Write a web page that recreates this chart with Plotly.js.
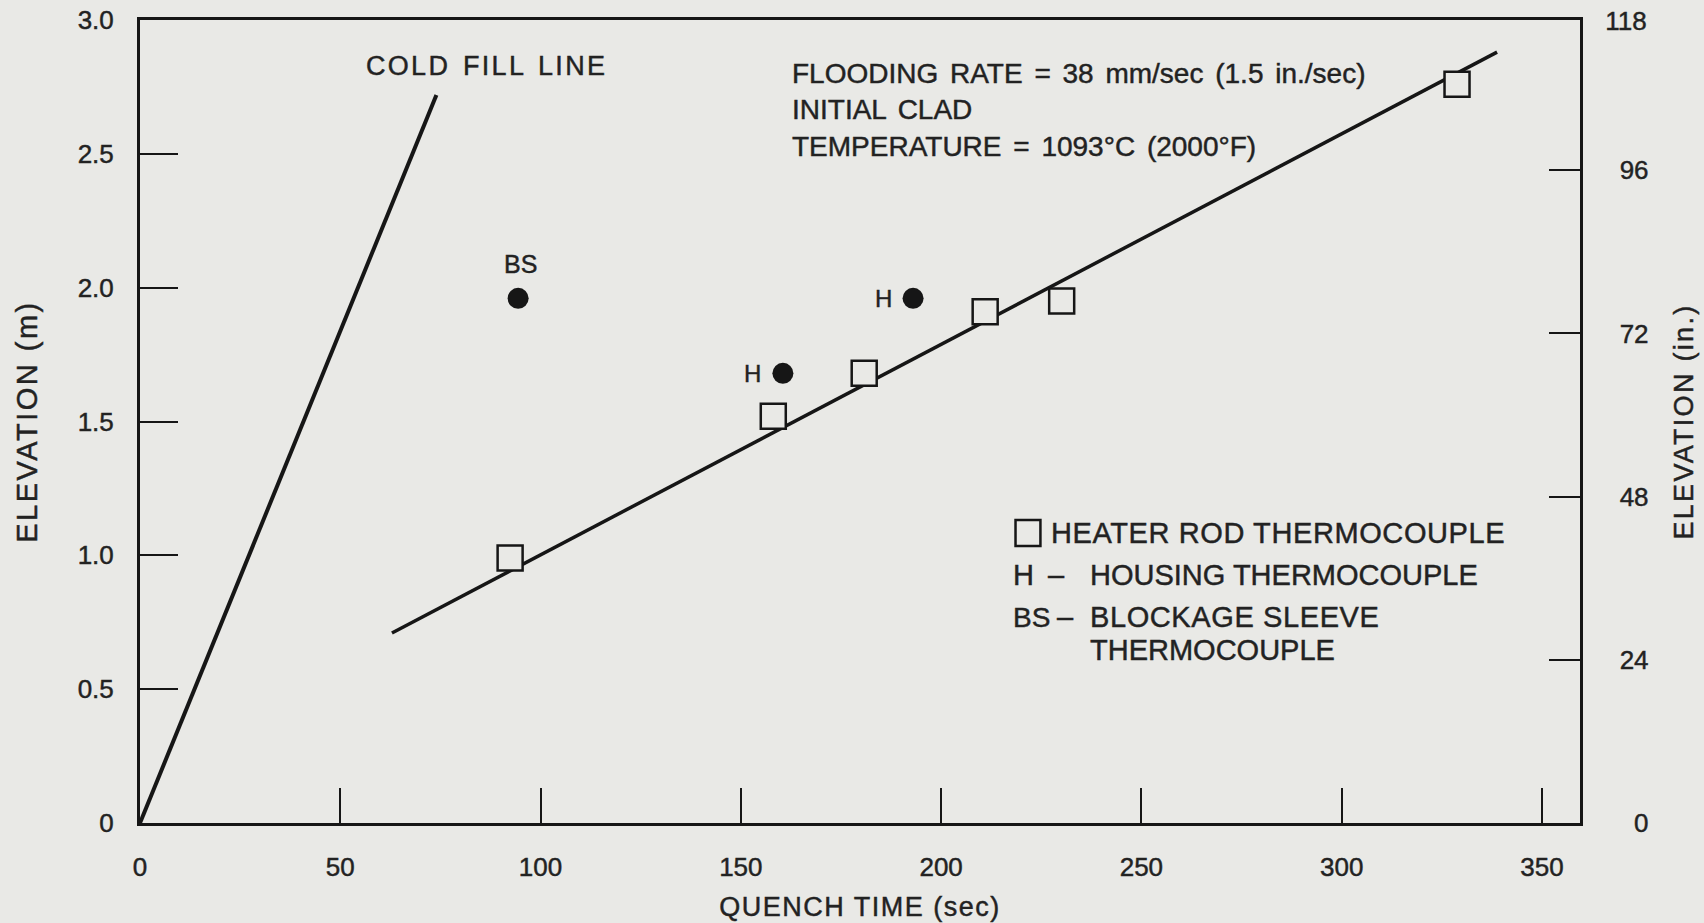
<!DOCTYPE html>
<html>
<head>
<meta charset="utf-8">
<script src="https://cdn.plot.ly/plotly-3.0.1.min.js"></script>
<style>
  html, body { margin: 0; padding: 0; background: #e9e9e6; }
  #chart { width: 1704px; height: 923px; }
  .main-svg text { stroke: #252525; stroke-width: 0.45px; }
  .g-ytitle text { letter-spacing: 2.5px; }
  .g-y2title text { letter-spacing: 2.3px; }
  .g-xtitle text { letter-spacing: 1.5px; }
  .annotation[data-index="3"] text { letter-spacing: 2.3px; word-spacing: 3px; }
  .annotation[data-index="4"] text { word-spacing: 4px; }
  .annotation[data-index="5"] text,
  .annotation[data-index="11"] text { letter-spacing: 0.6px; }
</style>
</head>
<body>
<div id="chart"></div>
<script>
// ---- data ----
const coldFillTime = [0, 74];
const coldFillElev = [0, 2.72];

const quenchFitTime = [62.9, 338.8];
const quenchFitElev = [0.71, 2.88];

const heaterRodTime = [92.4, 158.1, 180.8, 211.0, 230.1, 328.8];
const heaterRodElev = [0.99, 1.52, 1.68, 1.91, 1.95, 2.76];

const housingTime = [160.5, 193.0];
const housingElev = [1.68, 1.96];
const housingLabels = ["H", "H"];

const sleeveTime = [94.4];
const sleeveElev = [1.96];
const sleeveLabels = ["BS"];

const xTicks = [0, 50, 100, 150, 200, 250, 300, 350];
const yTicksM = [0, 0.5, 1.0, 1.5, 2.0, 2.5, 3.0];
const yTickTextM = ["0", "0.5", "1.0", "1.5", "2.0", "2.5", "3.0"];
const yTicksIn = [0, 24, 48, 72, 96, 118];
const yTickTextIn = ["0", "24", "48", "72", "96", "118"];

const legendHeater = "HEATER ROD THERMOCOUPLE";
const legendKeys = ["H", "BS"];
const legendItems = ["HOUSING THERMOCOUPLE", "BLOCKAGE SLEEVE", "THERMOCOUPLE"];
const noteLines = [
  "FLOODING RATE = 38 mm/sec (1.5 in./sec)",
  "INITIAL CLAD",
  "TEMPERATURE = 1093\u00b0C (2000\u00b0F)"
];

// ---- style ----
const BG = '#e9e9e6';
const INK = '#161616';
const TXT = '#222222';
const FONT = 'Liberation Sans, Arial, Helvetica, sans-serif';
const FSP = '\u2007'; // figure space to right-align the right-hand tick labels
const padRight = s => FSP.repeat(3 - s.length) + s;

const traces = [
  { x: coldFillTime, y: coldFillElev, mode: 'lines', line: {color: INK, width: 4},
    showlegend: false, hoverinfo: 'skip' },
  { x: quenchFitTime, y: quenchFitElev, mode: 'lines', line: {color: INK, width: 3.5},
    showlegend: false, hoverinfo: 'skip' },
  { x: heaterRodTime, y: heaterRodElev, mode: 'markers', name: legendHeater,
    marker: {symbol: 'square', size: 25, color: BG, line: {color: INK, width: 2.5}},
    showlegend: false },
  { x: housingTime, y: housingElev, mode: 'markers',
    marker: {symbol: 'circle', size: 21, color: INK}, showlegend: false },
  { x: sleeveTime, y: sleeveElev, mode: 'markers',
    marker: {symbol: 'circle', size: 21, color: INK}, showlegend: false },
  { x: [], y: [], yaxis: 'y2', mode: 'markers', showlegend: false, hoverinfo: 'skip' }
];

const ann = [];
const txtFont = s => ({size: s, color: TXT, family: FONT});
const paperText = (x, y, text, size, xanchor) => ({
  x: x, y: y, xref: 'paper', yref: 'paper', xanchor: xanchor || 'left', yanchor: 'middle',
  align: 'left', text: text, showarrow: false, font: txtFont(size)
});
// 0: BS label
sleeveTime.forEach((t, i) => ann.push({
  x: t, y: sleeveElev[i], xref: 'x', yref: 'y', text: sleeveLabels[i], showarrow: false,
  yshift: 34, xshift: 2, font: txtFont(25)
}));
// 1,2: H labels
housingTime.forEach((t, i) => ann.push({
  x: t, y: housingElev[i], xref: 'x', yref: 'y', text: housingLabels[i], showarrow: false,
  xshift: -30, font: txtFont(24)
}));
// 3: cold fill label
ann.push(paperText(0.1556, 0.943, 'COLD FILL LINE', 27));
// 4: conditions note
ann.push({
  x: 0.4514, y: 0.955, xref: 'paper', yref: 'paper', xanchor: 'left', yanchor: 'top',
  align: 'left', text: noteLines.join('<br>'), showarrow: false, font: txtFont(28)
});
// legend
const legY = [0.3611, 0.3088, 0.2565, 0.2154];
ann.push(paperText(0.6313, legY[0], legendHeater, 29));        // 5
ann.push(paperText(0.6049, legY[1], legendKeys[0], 29));       // 6
ann.push(paperText(0.6049, legY[2], legendKeys[1], 28));       // 7
ann.push(paperText(0.6583, legY[1], legendItems[0], 29));      // 8
ann.push(paperText(0.6365, legY[1], '\u2013', 29, 'center'));  // 9
ann.push(paperText(0.6430, legY[2], '\u2013', 29, 'center'));  // 10
ann.push(paperText(0.6583, legY[2], legendItems[1], 29));      // 11
ann.push(paperText(0.6583, legY[3], legendItems[2], 29));      // 12

const layout = {
  width: 1704, height: 923,
  paper_bgcolor: BG, plot_bgcolor: BG,
  margin: {l: 140, r: 124, t: 20, b: 100, pad: 0},
  font: {family: FONT, color: TXT},
  showlegend: false,
  shapes: [
    // legend key for the heater rod thermocouple squares
    {type: 'rect', xref: 'paper', yref: 'paper', x0: 0.6080, x1: 0.6253, y0: 0.3450, y1: 0.3773,
     line: {color: INK, width: 2.5}, fillcolor: BG, layer: 'above'}
  ],
  xaxis: {
    range: [0, 359.5], tickvals: xTicks, ticktext: xTicks.map(String),
    ticks: 'inside', ticklen: 35, tickwidth: 2, tickcolor: INK,
    showline: true, linewidth: 3, linecolor: INK, mirror: true,
    showgrid: false, zeroline: false, ticklabelstandoff: 19,
    tickfont: txtFont(26),
    title: {text: 'QUENCH TIME (sec)', font: txtFont(27), standoff: 16}
  },
  yaxis: {
    range: [0, 3.0], tickvals: yTicksM, ticktext: yTickTextM,
    ticks: 'inside', ticklen: 38, tickwidth: 2, tickcolor: INK,
    showline: true, linewidth: 3, linecolor: INK,
    showgrid: false, zeroline: false, ticklabelstandoff: 18,
    tickfont: txtFont(26),
    title: {text: 'ELEVATION (m)', font: txtFont(29), standoff: 32}
  },
  yaxis2: {
    overlaying: 'y', side: 'right', range: [0, 118.11],
    tickvals: yTicksIn, ticktext: yTickTextIn.map(padRight),
    ticks: 'inside', ticklen: 31, tickwidth: 2, tickcolor: INK,
    showline: true, linewidth: 3, linecolor: INK,
    showgrid: false, zeroline: false, ticklabelstandoff: 17,
    tickfont: txtFont(26),
    title: {text: 'ELEVATION (in.)', font: txtFont(27), standoff: 27}
  },
  annotations: ann
};

Plotly.newPlot('chart', traces, layout, {displayModeBar: false, staticPlot: true});
</script>
</body>
</html>
